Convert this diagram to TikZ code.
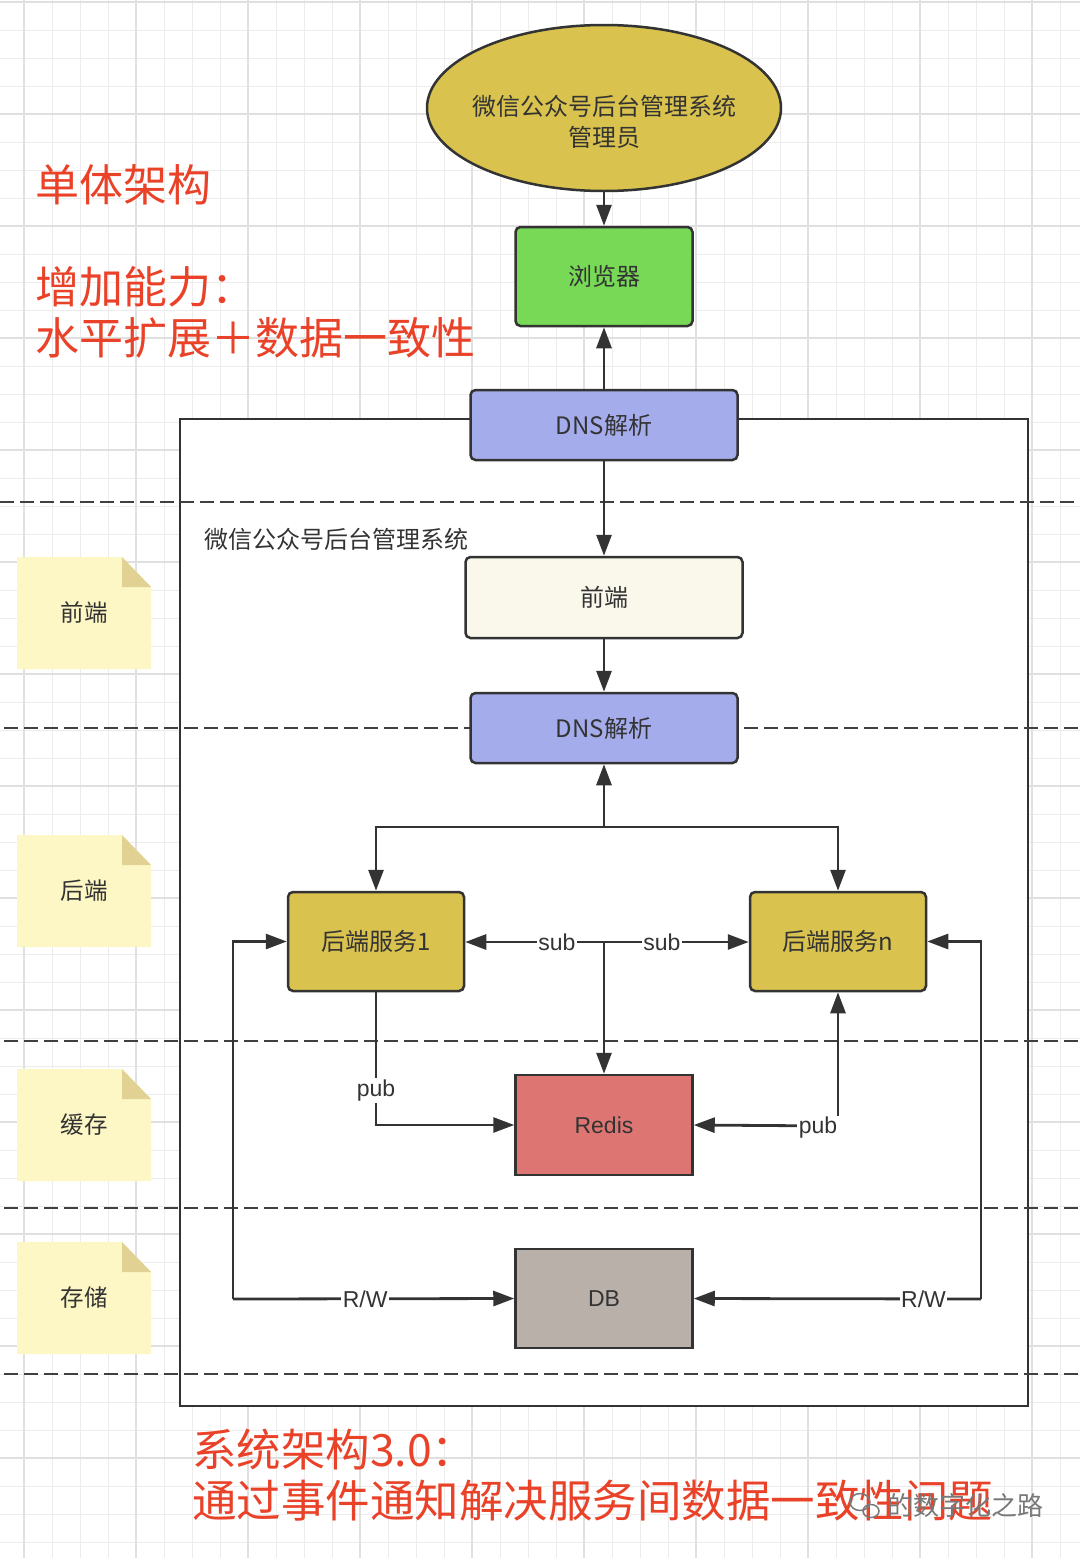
\documentclass[tikz,border=0pt]{standalone}
\usepackage{fontspec}
\setmainfont{Noto Sans CJK SC}
\newfontfamily\lat{Liberation Sans}
\usetikzlibrary{arrows.meta,shapes.geometric}
\definecolor{darkc}{RGB}{51,51,51}
\definecolor{dashc}{RGB}{64,64,64}
\definecolor{textc}{RGB}{51,51,51}
\definecolor{redt}{RGB}{233,66,40}
\definecolor{goldc}{RGB}{217,194,78}
\definecolor{greenc}{RGB}{119,217,86}
\definecolor{lavc}{RGB}{165,172,236}
\definecolor{creamc}{RGB}{250,248,234}
\definecolor{salmonc}{RGB}{221,118,114}
\definecolor{dbc}{RGB}{185,176,170}
\definecolor{noteyc}{RGB}{253,247,197}
\definecolor{notefc}{RGB}{225,209,146}
\definecolor{gridminc}{RGB}{236,236,236}
\definecolor{gridmajc}{RGB}{224,224,224}
\definecolor{wmc}{RGB}{120,120,120}
\tikzset{
  boxnode/.style={draw=darkc, line width=2.5pt, rounded corners=5pt, text=textc,
    font=\fontsize{24}{28}\selectfont, inner sep=0pt},
  sqnode/.style={draw=darkc, line width=2.5pt, text=textc,
    font=\lat\fontsize{23}{26}\selectfont, inner sep=0pt},
  conn/.style={draw=darkc, line width=2.8pt, -{Triangle[length=21pt,width=15pt]}},
  lbl/.style={fill=white, inner sep=1.5pt, text=textc, font=\lat\fontsize{23}{26}\selectfont},
  dashline/.style={draw=dashc, line width=2.8pt, dash pattern=on 14pt off 6pt},
  redtxt/.style={text=redt, font=\fontsize{44}{51}\selectfont, inner sep=0pt, align=left},
  notetxt/.style={text=textc, font=\fontsize{23.5}{28}\selectfont, inner sep=0pt},
  plaintxt/.style={text=textc, font=\fontsize{24}{30}\selectfont, inner sep=0pt}
}
\begin{document}
\begin{tikzpicture}[x=1pt,y=-1pt]
\useasboundingbox (0,0) rectangle (1080,1558);
\fill[white] (0,0) rectangle (1080,1558);
% grid
\foreach \gx in {-4,24,...,1084} \draw[gridminc, line width=1pt] (\gx,0) -- (\gx,1558);
\foreach \gy in {2,30,...,1560} \draw[gridminc, line width=1pt] (0,\gy) -- (1080,\gy);
\foreach \gx in {24,136,...,1084} \draw[gridmajc, line width=1.8pt] (\gx,0) -- (\gx,1558);
\foreach \gy in {2,114,...,1560} \draw[gridmajc, line width=1.8pt] (0,\gy) -- (1080,\gy);

% container
\node[draw=darkc, line width=2.5pt, fill=white, minimum width=848pt, minimum height=987pt, inner sep=0pt] (sys) at (604,912.5) {};
\node[plaintxt, anchor=west] (systitle) at (204,539) {微信公众号后台管理系统};

% dashed layer lines
\draw[dashline] (0,502) -- (1080,502);
\draw[dashline] (4,728) -- (1080,728);
\draw[dashline] (4,1041) -- (1080,1041);
\draw[dashline] (4,1208) -- (1080,1208);
\draw[dashline] (4,1374) -- (1080,1374);

% sticky notes
\foreach \ny/\nt/\nn in {557/前端/nfront, 835/后端/nback, 1069/缓存/ncache, 1242/存储/nstore}{
  \fill[noteyc] (17,\ny) -- (122,\ny) -- (151,\ny+30) -- (151,\ny+112) -- (17,\ny+112) -- cycle;
  \fill[notefc] (122,\ny) -- (151,\ny+30) -- (122,\ny+30) -- cycle;
  \node[notetxt] (\nn) at (84,\ny+56) {\nt};
}

% red texts
\node[redtxt, anchor=west] (t1) at (35,185) {单体架构};
\node[redtxt, anchor=west] (t2) at (35,312.5) {增加能力：\\水平扩展＋数据一致性};
\node[redtxt, anchor=west, font=\fontsize{44.5}{51}\selectfont] (t3) at (192,1475) {系统架构3.0：\\通过事件通知解决服务间数据一致性问题};

% main nodes
\node[ellipse, draw=darkc, line width=2.5pt, fill=goldc, minimum width=354pt, minimum height=166pt, inner sep=0pt] (admin) at (604,108) {};
\node[plaintxt, align=center, font=\fontsize{24}{31}\selectfont] (admintxt) at (604,122) {微信公众号后台管理系统\\管理员};
\node[boxnode, fill=greenc, minimum width=177pt, minimum height=99pt] (browser) at (604,276.5) {浏览器};
\node[boxnode, fill=lavc, minimum width=267pt, minimum height=70pt] (dns1) at (604,425) {DNS解析};
\node[boxnode, fill=creamc, minimum width=277pt, minimum height=81pt] (front) at (604,597.5) {前端};
\node[boxnode, fill=lavc, minimum width=267pt, minimum height=70pt] (dns2) at (604,728) {DNS解析};
\node[boxnode, fill=goldc, minimum width=176pt, minimum height=99pt] (b1) at (376,941.5) {后端服务1};
\node[boxnode, fill=goldc, minimum width=176pt, minimum height=99pt] (bn) at (838,941.5) {后端服务n};
\node[sqnode, fill=salmonc, minimum width=177pt, minimum height=100pt] (redis) at (604,1125) {Redis};
\node[sqnode, fill=dbc, minimum width=177pt, minimum height=99pt] (db) at (604,1298.5) {DB};

% connectors
\draw[conn] (admin.south) -- (browser.north);
\draw[conn] (dns1.north) -- (browser.south);
\draw[conn] (dns1.south) -- (front.north);
\draw[conn] (front.south) -- (dns2.north);
\coordinate (split) at (604,827);
\draw[conn] (split) -- (dns2.south);
\draw[conn] (split) -| (b1.north);
\draw[conn] (split) -| (bn.north);
\coordinate (subj) at (604,942);
\draw[conn] (subj) -- (redis.north);
\draw[conn] (subj) -- node[lbl, pos=0.34] {sub} (b1.east |- subj);
\draw[conn] (subj) -- node[lbl, pos=0.4] {sub} (bn.west |- subj);
\draw[conn] (b1.south) |- node[lbl, pos=0.37] {pub} (redis.west);
\coordinate (pubr) at (838,1126);
\draw[conn] (pubr) -- (redis.east);
\draw[conn] (pubr) -- (bn.south);
\node[lbl] (pubrl) at (818,1128) {pub};
\coordinate (rwl) at (233,1299);
\draw[conn] (rwl) -- node[lbl, pos=0.47] {R/W} (db.west);
\draw[conn] (rwl) |- (b1.west);
\coordinate (rwr) at (981,1299);
\draw[conn] (rwr) -- node[lbl, pos=0.2] {R/W} (db.east);
\draw[conn] (rwr) |- (bn.east);

% watermark
\draw[wmc, line width=1.5pt] (860,1502) ellipse [x radius=10pt, y radius=8.5pt];
\draw[wmc, line width=1.5pt] (871,1511) ellipse [x radius=8pt, y radius=6.5pt];
\node[text=wmc, font=\fontsize{26}{30}\selectfont, inner sep=0pt, anchor=west] (wm) at (887,1506) {的数字化之路};
\end{tikzpicture}
\end{document}
